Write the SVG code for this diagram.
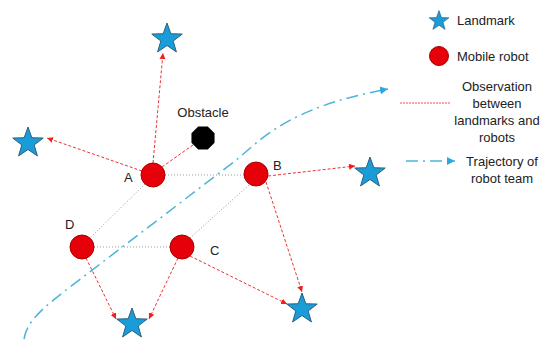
<svg xmlns="http://www.w3.org/2000/svg" xmlns:xlink="http://www.w3.org/1999/xlink" width="544" height="340" viewBox="0 0 544 340">
<style>
text{font-family:"Liberation Sans",Arial,sans-serif;font-size:13px;fill:#222}
.obs{fill:none;stroke:#F03030;stroke-width:1;stroke-dasharray:3 2}
.link{fill:none;stroke:#9a9a9a;stroke-width:1;stroke-dasharray:1 2}
.traj{fill:none;stroke:#4DB3DA;stroke-width:1.5;stroke-dasharray:12 5 2 5}
.robot{fill:#E6000A;stroke:#A80000;stroke-width:1}
.star{fill:#1A9CD8;stroke:#2B607E;stroke-width:1}
</style>
<defs>
<path id="starShape" d="M0,-16 L3.82,-5.26 L15.22,-4.94 L6.18,2.01 L9.4,12.94 L0,6.5 L-9.4,12.94 L-6.18,2.01 L-15.22,-4.94 L-3.82,-5.26 Z"/>
<marker id="arrRed" viewBox="0 0 6 6" refX="6" refY="3" markerWidth="6" markerHeight="6" markerUnits="userSpaceOnUse" orient="auto">
<path d="M0,0 L6,3 L0,6 Z" fill="#F02020"/>
</marker>
<marker id="arrBlue" viewBox="0 0 8 8" refX="8" refY="4" markerWidth="8" markerHeight="8" markerUnits="userSpaceOnUse" orient="auto">
<path d="M0,0 L8,4 L0,8 Z" fill="#2FA8DC"/>
</marker>
</defs>
<rect width="544" height="340" fill="#ffffff"/>

<g id="connectors">
<path class="traj" d="M24,339 C27,322 40,310 70,287 L235,161 C260,141 285,108 388,89" marker-end="url(#arrBlue)"/>
<path class="link" d="M165,175 L244,175"/>
<path class="link" d="M145,184 L90,238"/>
<path class="link" d="M94,247 L170,247"/>
<path class="link" d="M190,238 L249,185"/>
<path class="obs" d="M153,163 L163,53" marker-end="url(#arrRed)"/>
<path class="obs" d="M142,171 L47,138" marker-end="url(#arrRed)"/>
<path class="obs" d="M162,167 L193,145"/>
<path class="obs" d="M268,176 L355,166" marker-end="url(#arrRed)"/>
<path class="obs" d="M266,182 L302,292" marker-end="url(#arrRed)"/>
<path class="obs" d="M190,256 L287,304" marker-end="url(#arrRed)"/>
<path class="obs" d="M178,258 L149,319" marker-end="url(#arrRed)"/>
<path class="obs" d="M86,258 L116,319" marker-end="url(#arrRed)"/>
</g>

<g id="landmark-top"><use xlink:href="#starShape" href="#starShape" class="star" transform="translate(167,39)"/></g>
<g id="landmark-left"><use xlink:href="#starShape" href="#starShape" class="star" transform="translate(28,143)"/></g>
<g id="landmark-right"><use xlink:href="#starShape" href="#starShape" class="star" transform="translate(370,173)"/></g>
<g id="landmark-bottom"><use xlink:href="#starShape" href="#starShape" class="star" transform="translate(132,324)"/></g>
<g id="landmark-bottom-right"><use xlink:href="#starShape" href="#starShape" class="star" transform="translate(302,309)"/></g>

<g id="obstacle">
<polygon points="214.55,142.78 207.78,149.55 198.22,149.55 191.45,142.78 191.45,133.22 198.22,126.45 207.78,126.45 214.55,133.22" fill="#000"/>
<text x="203" y="117" text-anchor="middle">Obstacle</text>
</g>

<g id="robot-A"><circle class="robot" cx="153" cy="175" r="12"/><text x="124" y="182">A</text></g>
<g id="robot-B"><circle class="robot" cx="256" cy="174" r="12"/><text x="273" y="170">B</text></g>
<g id="robot-C"><circle class="robot" cx="182" cy="247" r="12"/><text x="210" y="255">C</text></g>
<g id="robot-D"><circle class="robot" cx="82" cy="247" r="12"/><text x="65" y="229">D</text></g>

<g id="legend">
<use xlink:href="#starShape" href="#starShape" class="star" transform="translate(439,21) scale(0.65)"/>
<text x="457" y="25">Landmark</text>
<circle class="robot" cx="439" cy="56" r="9.5"/>
<text x="457" y="61">Mobile robot</text>
<path d="M400,103 L451,103" fill="none" stroke="#F05050" stroke-width="1" stroke-dasharray="2 1"/>
<text x="497" y="91" text-anchor="middle">Observation</text>
<text x="497" y="108" text-anchor="middle">between</text>
<text x="497" y="125" text-anchor="middle">landmarks and</text>
<text x="497" y="142" text-anchor="middle">robots</text>
<path d="M406,161 L455,161" class="traj" stroke-dasharray="12 5 2 5" marker-end="url(#arrBlue)"/>
<text x="502" y="166" text-anchor="middle">Trajectory of</text>
<text x="502" y="183" text-anchor="middle">robot team</text>
</g>
</svg>
